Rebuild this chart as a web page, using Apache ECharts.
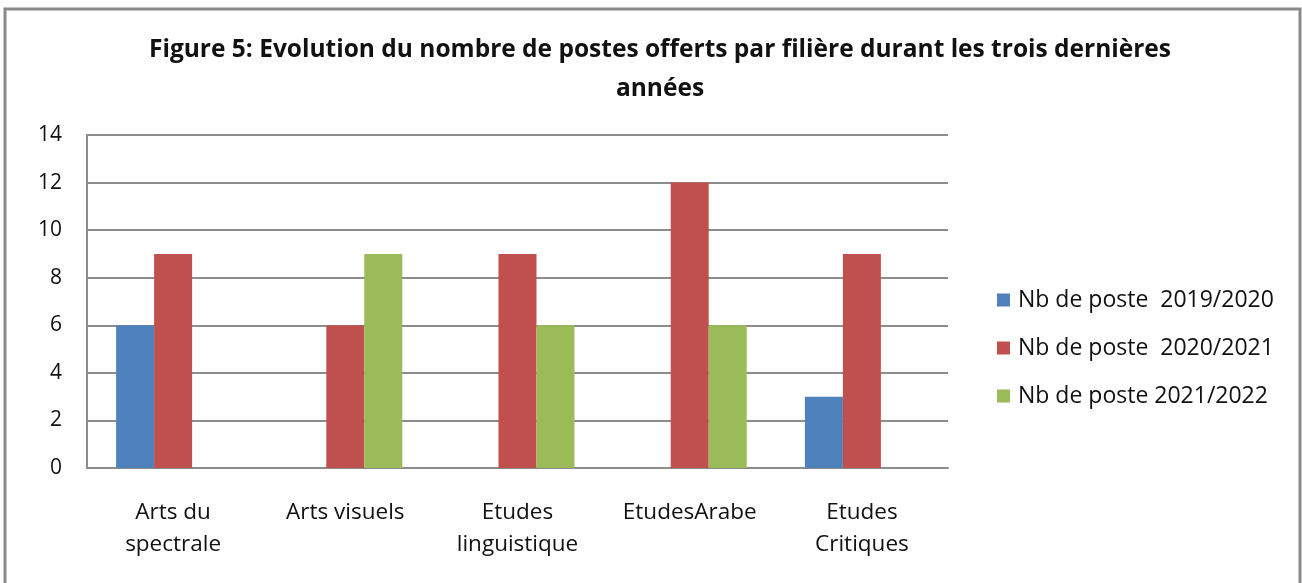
<!DOCTYPE html>
<html>
<head>
<meta charset="utf-8">
<script src="https://cdn.jsdelivr.net/npm/echarts@6/dist/echarts.min.js"></script>
<style>html,body{margin:0;padding:0;background:#fff}#c{width:1302px;height:583px}</style>
</head>
<body>
<div id="c"></div>
<script>
var titleText = "Figure 5: Evolution du nombre de postes offerts par filière durant les trois dernières\nannées";
var categories = ["Arts du\nspectrale", "Arts visuels", "Etudes\nlinguistique", "EtudesArabe", "Etudes\nCritiques"];
var seriesNames = ["Nb de poste  2019/2020", "Nb de poste  2020/2021", "Nb de poste 2021/2022"];
var values2019 = [6, 0, 0, 0, 3];
var values2020 = [9, 6, 9, 12, 9];
var values2021 = [0, 9, 6, 6, 0];
var colors = ["#4F81BD", "#C0504D", "#9BBB59"];
var FONT = "Open Sans";

var chart = echarts.init(document.getElementById('c'), null, {renderer: 'canvas'});
var data = [values2019, values2020, values2021];
var series = seriesNames.map(function (n, i) {
  return {
    name: n, type: 'bar', data: data[i], barWidth: 38, barGap: '0%',
    itemStyle: {color: colors[i]}
  };
});
chart.setOption({
  animation: false,
  backgroundColor: '#fff',
  graphic: [{
    type: 'rect', shape: {x: 5, y: 9, width: 1295, height: 600},
    style: {fill: 'none', stroke: '#8a8a8a', lineWidth: 3}, silent: true
  }],
  title: {
    text: titleText, left: 655, textAlign: 'center', top: 26,
    textStyle: {fontFamily: FONT, fontWeight: 'bold', fontSize: 24.5, lineHeight: 39, color: '#111'}
  },
  legend: {
    orient: 'vertical', left: 992, top: 283, itemWidth: 13, itemHeight: 13, itemGap: 24,
    icon: 'rect',
    textStyle: {fontFamily: FONT, fontSize: 23, color: '#111', lineHeight: 24, padding: [0, 0, 0, 3]},
    data: seriesNames
  },
  grid: {left: 87, right: 354, top: 135, bottom: 115},
  xAxis: {
    type: 'category', data: categories,
    axisLine: {lineStyle: {color: '#8c8c8c', width: 2}},
    axisTick: {show: false},
    axisLabel: {fontFamily: FONT, fontSize: 22.5, color: '#111', lineHeight: 32, margin: 29, interval: 0}
  },
  yAxis: {
    type: 'value', min: 0, max: 14, interval: 2,
    axisLine: {show: true, lineStyle: {color: '#8c8c8c', width: 2}},
    axisTick: {show: false},
    splitLine: {lineStyle: {color: '#8c8c8c', width: 2}},
    axisLabel: {fontFamily: FONT, fontSize: 21, color: '#111', margin: 25}
  },
  series: series
});
</script>
</body>
</html>
